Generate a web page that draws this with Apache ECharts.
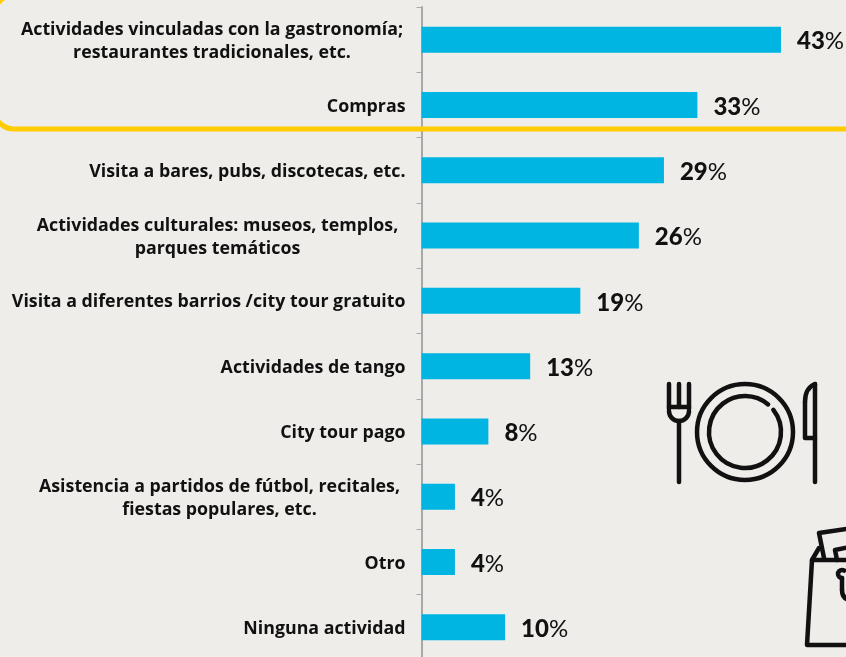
<!DOCTYPE html>
<html><head><meta charset="utf-8">
<style>html,body{margin:0;padding:0;background:#eeedea}#c{width:846px;height:657px}</style>
<script src="https://cdn.jsdelivr.net/npm/echarts@6/dist/echarts.min.js"></script></head>
<body><div id="c"></div>
<script>
const categories = [
  "Actividades vinculadas con la gastronomía;\nrestaurantes tradicionales, etc.",
  "Compras",
  "Visita a bares, pubs, discotecas, etc.",
  "Actividades culturales: museos, templos,\nparques temáticos",
  "Visita a diferentes barrios /city tour gratuito",
  "Actividades de tango",
  "City tour pago",
  "Asistencia a partidos de fútbol, recitales,\nfiestas populares, etc.",
  "Otro",
  "Ninguna actividad"
];
const values = [43, 33, 29, 26, 19, 13, 8, 4, 4, 10];
const ink = '#111111';
const labelFont = {fontFamily:'"Open Sans"', fontWeight:700, fontSize:17.8, color:ink, lineHeight:23};
const blockWidths = {0:387, 3:376, 7:372};
const rich = {};
Object.keys(blockWidths).forEach(k => { rich['b'+k] = Object.assign({width:blockWidths[k], align:'center'}, labelFont); });
const chart = echarts.init(document.getElementById('c'), null, {renderer:'canvas'});
const stroke = {fill:'none', stroke:ink, lineWidth:4.5, lineCap:'round', lineJoin:'round'};
const poly = pts => ({type:'polyline', silent:true, z:50, shape:{points:pts}, style:stroke});
const arc = (cx,cy,r,a0,a1) => ({type:'arc', silent:true, z:50, shape:{cx,cy,r,startAngle:a0,endAngle:a1,clockwise:true}, style:stroke});
const curve = (x1,y1,cx,cy,x2,y2) => ({type:'bezierCurve', silent:true, z:50, shape:{x1,y1,x2,y2,cpx1:cx,cpy1:cy}, style:stroke});
const rad = d => d*Math.PI/180;
chart.setOption({
  animation:false,
  backgroundColor:'#eeedea',
  grid:{left:421.5, top:7, width:418, height:653, containLabel:false, outerBoundsMode:'none'},
  xAxis:{type:'value', min:0, max:50, show:false},
  yAxis:{type:'category', inverse:true, data:categories,
    axisLine:{show:true, lineStyle:{color:'#a8a8a8', width:2}},
    axisTick:{show:true, length:5, lineStyle:{color:'#a8a8a8', width:1}},
    axisLabel:Object.assign({margin:16, align:'right', rich, padding:[3,0,0,0],
      formatter:(v,i)=> blockWidths[i] ? v.split('\n').map(l=>`{b${i}|${l}}`).join('\n') : v
    }, labelFont)
  },
  series:[{type:'bar', data:values, barWidth:26, itemStyle:{color:'#00b5e2'},
    label:{show:true, position:'right', distance:16, offset:[0,2],
      formatter:p=>`{n|${p.value}}{p|%}`,
      rich:{n:{fontFamily:'Lato',fontWeight:900,fontSize:24,color:ink},
            p:{fontFamily:'Lato',fontWeight:400,fontSize:24,color:ink}}}
  }],
  graphic:[
    {type:'rect', silent:true, z:40, shape:{x:-6,y:-5,width:900,height:134,r:20},
     style:{fill:'none', stroke:'#ffcc00', lineWidth:5}},
    poly([[669,384],[669,409]]), poly([[689,384],[689,409]]), poly([[679,384],[679,407]]), poly([[679,421],[679,482]]),
    poly([[669,407],[689,407]]), arc(679,411,10,rad(0),rad(180)),
    arc(745,432,48,0,rad(360)),
    arc(745,432,36,rad(-38),rad(-50)),
    curve(815,384,805,388,805,402), poly([[805,402],[805,438],[815,438]]), poly([[815,384],[815,482]]),
    poly([[860,560],[812,560],[807,645],[860,645]]), poly([[812,560],[819,548]]),
    poly([[824,558],[819,533],[860,527]]), poly([[837,560],[835,550],[860,545]]),
    arc(842,574,4,rad(90),rad(-60)), poly([[842,578],[842,590]]), curve(842,590,842,600,852,600)
  ]
});
</script></body></html>
